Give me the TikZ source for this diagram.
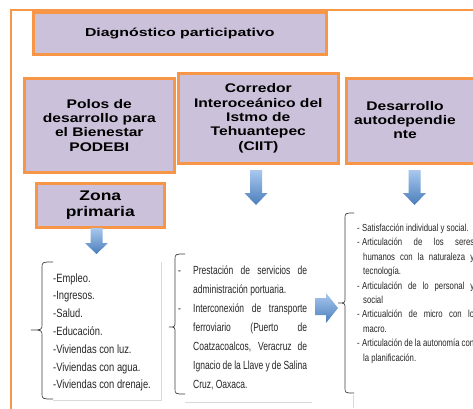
\documentclass[tikz,border=0pt]{standalone}
\usepackage{fontspec}
\setmainfont{Liberation Sans}
\newfontfamily\hdrfont[FakeStretch=1.25]{Liberation Sans}
\newfontfamily\diagfont[FakeStretch=1.38]{Liberation Sans}
\newfontfamily\narfont[FakeStretch=0.78]{Liberation Sans}
\newfontfamily\narBfont[FakeStretch=0.72]{Liberation Sans}
\newfontfamily\narCfont[FakeStretch=0.76]{Liberation Sans}
\definecolor{orng}{HTML}{F79646}
\definecolor{lav}{HTML}{CCC1DA}
\definecolor{arrlight}{HTML}{A9C8EE}
\definecolor{arrdark}{HTML}{4A7EBB}
\definecolor{brc}{HTML}{404040}
\tikzset{
  hbox/.style={draw=orng, line width=2.6pt, fill=lav, anchor=north west, inner sep=0pt, align=center, text=black},
  hdrtxt/.style={font=\hdrfont\bfseries\fontsize{12.5}{14.3}\selectfont},
  bracepath/.style={draw=brc, line width=0.7pt},
  faint/.style={draw=black!15, line width=0.6pt},
  listtxt/.style={anchor=base west, inner sep=0pt, text=black!85},
  blkarrow/.style={top color=arrlight, bottom color=arrdark, draw=none},
}
\newcommand\blkdown[6]{\shade[blkarrow] (#1-#5,#2) -- (#1+#5,#2) -- (#1+#5,#3) -- (#1+#6,#3) -- (#1,#4) -- (#1-#6,#3) -- (#1-#5,#3) -- cycle;}
\newcommand\bracelft[6]{\draw[bracepath] (#1,#4) .. controls (#2,#4) .. (#2,#4+6) -- (#2,#5-6) .. controls (#2,#5) .. (#3,#5) .. controls (#2,#5) .. (#2,#5+6) -- (#2,#6-6) .. controls (#2,#6) .. (#1,#6);}
\begin{document}
\begin{tikzpicture}[x=1pt,y=-1pt]
\useasboundingbox (0,0) rectangle (473,408);
\clip (0,0) rectangle (473,408);
\fill[white] (0,0) rectangle (473,408);
% outer frame
\draw[orng, line width=2.6pt] (11,420) -- (11,10) -- (490,10);
% header boxes
\node[hbox, minimum width=293, minimum height=42, font=\diagfont\bfseries\fontsize{11.5}{14}\selectfont] (diag) at (32,11) {Diagnóstico participativo};
\node[hbox, hdrtxt, minimum width=150, minimum height=94] (polos) at (23,77) {Polos de\\desarrollo para\\el Bienestar\\PODEBI};
\node[hbox, hdrtxt, minimum width=160, minimum height=90] (ciit) at (177,72) {Corredor\\Interoceánico del\\Istmo de\\Tehuantepec\\(CIIT)};
\node[hbox, minimum width=140, minimum height=85] (desbox) at (345,77) {};
\node[hdrtxt, align=center, inner sep=0pt] (destxt) at (405,120) {Desarrollo\\autodependie\\nte};
\node[hbox, minimum width=128, minimum height=44, font=\hdrfont\bfseries\fontsize{14}{16}\selectfont] (zona) at (35,182) {Zona\\primaria};
% blue arrows
\blkdown{96.5}{228}{243}{254}{6}{11.5}
\blkdown{256}{170}{193}{205}{6}{11.5}
\blkdown{414.5}{170}{193}{205}{6}{11.5}
\shade[blkarrow] (315,298) -- (326,298) -- (326,293) -- (338,308) -- (326,323) -- (326,315) -- (315,315) -- cycle;
% braces
\bracelft{53}{42}{31}{262}{330}{399}
\bracelft{185}{175}{169}{254}{327}{394}
\bracelft{354}{345}{338}{213}{303}{393}
% faint frames
\draw[faint] (53,400) -- (161,400) -- (161,262);
\draw[faint] (185,402) -- (312,402);
\draw[faint] (353,395) -- (353,408);
% list texts
\node[listtxt] (l1) at (53,282) {\parbox[t]{110pt}{\narfont\fontsize{12}{17.8}\selectfont
-Empleo.\\-Ingresos.\\-Salud.\\-Educación.\\-Viviendas con luz.\\-Viviendas con agua.\\-Viviendas con drenaje.}};
\node[listtxt] (l2) at (178,274) {\parbox[t]{129pt}{\narBfont\fontsize{11.8}{19}\selectfont
\noindent\hangindent=15pt\hangafter=1\makebox[15pt][l]{-}Prestación de servicios de\linebreak administración portuaria.\par
\noindent\hangindent=15pt\hangafter=1\makebox[15pt][l]{-}Interconexión de transporte\linebreak ferroviario (Puerto de\linebreak Coatzacoalcos, Veracruz de\linebreak Ignacio de la Llave y de Salina\linebreak Cruz, Oaxaca.\par}};
\node[listtxt] (l3) at (357,231.5) {\parbox[t]{117pt}{\narCfont\fontsize{10.2}{14.4}\selectfont
\noindent\hangindent=6pt\hangafter=1\makebox[5pt][l]{-}Satisfacción individual y social.\par
\noindent\hangindent=6pt\hangafter=1\makebox[5pt][l]{-}Articulación de los seres\linebreak humanos con la naturaleza y\linebreak tecnología.\par
\noindent\hangindent=6pt\hangafter=1\makebox[5pt][l]{-}Articulación de lo personal y\linebreak social\par
\noindent\hangindent=6pt\hangafter=1\makebox[5pt][l]{-}Articualción de micro con lo\linebreak macro.\par
\noindent\hangindent=6pt\hangafter=1\makebox[5pt][l]{-}Articulación de la autonomía con\linebreak la planificación.\par}};
\end{tikzpicture}
\end{document}
